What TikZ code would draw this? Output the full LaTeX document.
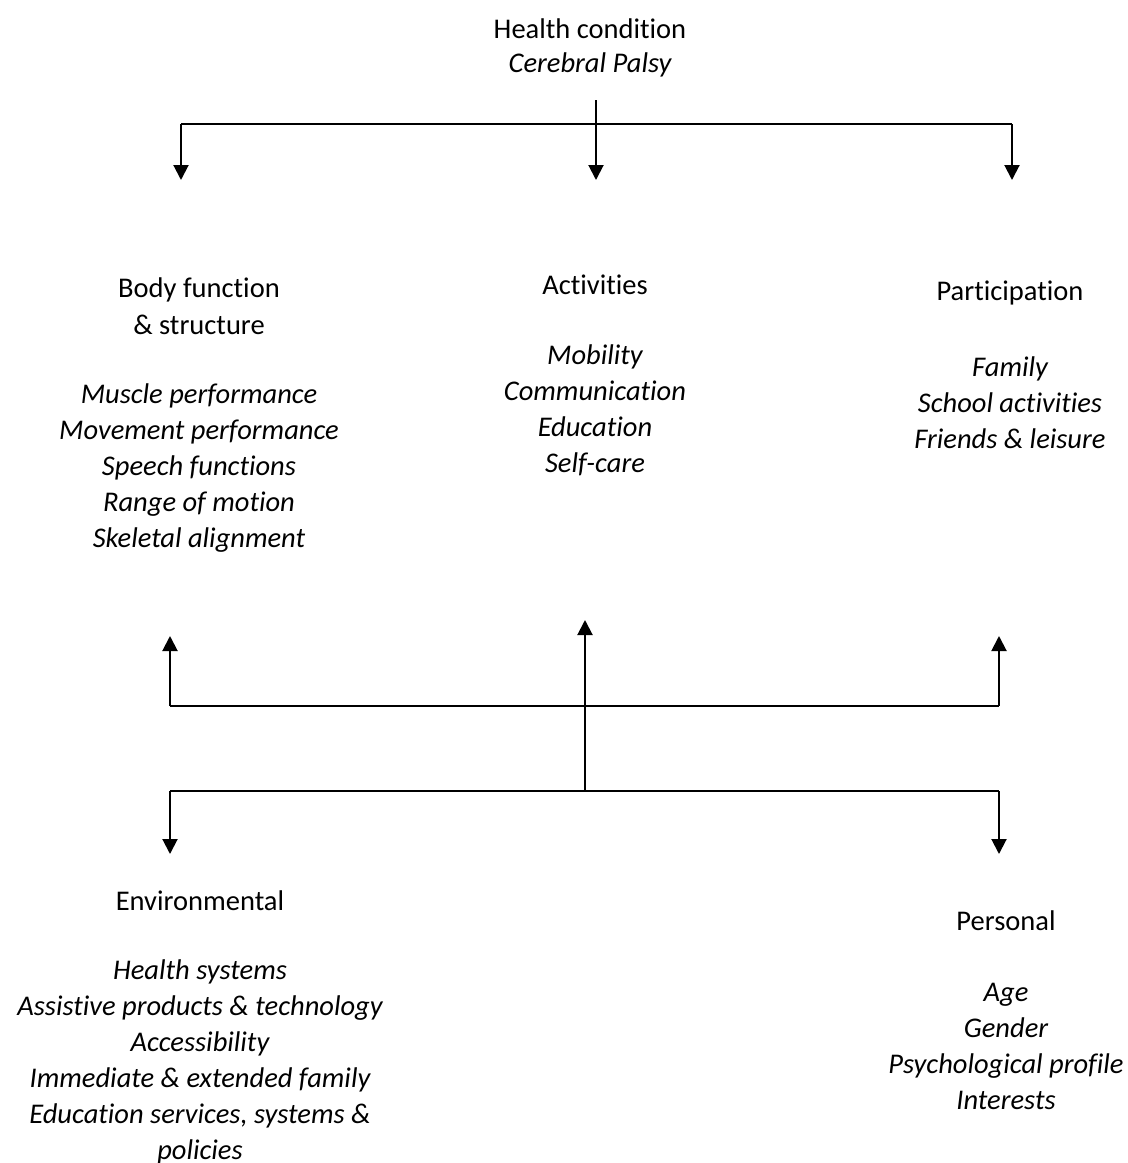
\documentclass[tikz,border=0pt]{standalone}
\usepackage{fontspec}
\setmainfont[Ligatures={NoCommon,NoContextual}]{Carlito}
\usetikzlibrary{arrows.meta}
\tikzset{
  head/.style={font=\fontsize{28.5}{36}\selectfont, inner sep=0pt, anchor=center},
  item/.style={font=\fontsize{28.5}{36}\selectfont\itshape, inner sep=0pt, anchor=center, align=center},
  conn/.style={line width=2pt},
  arr/.style={conn, -{Triangle[length=15pt,width=15pt]}}
}
\begin{document}
\begin{tikzpicture}[x=1pt,y=-1pt]
\useasboundingbox (0,0) rectangle (1128,1163);
% Health condition
\node[head] (hc) at (590,29) {Health condition};
\node[item] (cp) at (590,65) {Cerebral Palsy};
% Body function
\node[head] (bf1) at (199,290) {Body function};
\node[head] (bf2) at (199,325) {\& structure};
\node[item] (bfi) at (199,468) {Muscle performance\\Movement performance\\Speech functions\\Range of motion\\Skeletal alignment};
% Activities
\node[head] (act) at (595,285) {Activities};
\node[item] (acti) at (595,410.5) {Mobility\\Communication\\Education\\Self-care};
% Participation
\node[head] (par) at (1010,293) {Participation};
\node[item] (pari) at (1010,403) {Family\\School activities\\Friends \& leisure};
% Environmental
\node[head] (env) at (200,901) {Environmental};
\node[item] (envi) at (200,1061.5) {Health systems\\Assistive products \& technology\\Accessibility\\Immediate \& extended family\\Education services, systems \&\\policies};
% Personal
\node[head] (per) at (1006,921) {Personal};
\node[item] (peri) at (1006,1046) {Age\\Gender\\Psychological profile\\Interests};
% top connectors
\coordinate (t0) at (596,100);
\coordinate (tj) at (596,124);
\coordinate (tl) at (181,124);
\coordinate (tr) at (1012,124);
\coordinate (tle) at (181,180);
\coordinate (tce) at (596,180);
\coordinate (tre) at (1012,180);
\draw[conn] (tl) -- (tr);
\draw[arr] (t0) -- (tce);
\draw[arr] (tl) -- (tle);
\draw[arr] (tr) -- (tre);
% bottom connectors
\coordinate (ul) at (170,706);
\coordinate (ur) at (999,706);
\coordinate (ule) at (170,636);
\coordinate (ure) at (999,636);
\coordinate (bc) at (585,791);
\coordinate (uce) at (585,620);
\coordinate (bl) at (170,791);
\coordinate (br) at (999,791);
\coordinate (ble) at (170,854);
\coordinate (bre) at (999,854);
\draw[conn] (ul) -- (ur);
\draw[conn] (bl) -- (br);
\draw[arr] (ul) -- (ule);
\draw[arr] (ur) -- (ure);
\draw[arr] (bc) -- (uce);
\draw[arr] (bl) -- (ble);
\draw[arr] (br) -- (bre);
\end{tikzpicture}
\end{document}
